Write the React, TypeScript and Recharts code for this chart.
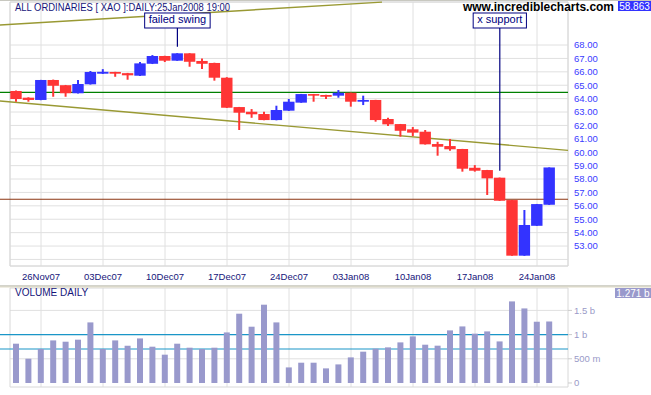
import React from "react";
import { ComposedChart, Bar, XAxis, YAxis, CartesianGrid, ReferenceLine, ReferenceArea } from "recharts";

const dates = [
    "22Nov07", "23Nov07", "26Nov07", "27Nov07", "28Nov07", "29Nov07", "30Nov07",
    "03Dec07", "04Dec07", "05Dec07", "06Dec07", "07Dec07",
    "10Dec07", "11Dec07", "12Dec07", "13Dec07", "14Dec07",
    "17Dec07", "18Dec07", "19Dec07", "20Dec07", "21Dec07",
    "24Dec07", "27Dec07", "28Dec07", "31Dec07", "02Jan08",
    "03Jan08", "04Jan08", "07Jan08", "08Jan08", "09Jan08",
    "10Jan08", "11Jan08", "14Jan08", "15Jan08", "16Jan08",
    "17Jan08", "18Jan08", "21Jan08", "22Jan08", "23Jan08",
    "24Jan08", "25Jan08",
];

const opens = [
    64.57, 64.07, 63.9, 65.39, 65.0, 64.4, 65.07, 65.86, 65.99, 65.9, 65.71, 66.6,
    67.18, 66.83, 67.38, 66.81, 66.66, 65.56, 63.37, 63.02, 62.85, 62.4, 63.1, 63.7,
    64.34, 64.27, 64.22, 64.44, 63.77, 63.9, 62.48, 62.1, 61.71, 61.53, 60.61, 60.46,
    60.24, 58.84, 58.67, 58.1, 56.43, 52.28, 54.51, 56.08,
];
const highs = [
    64.6, 64.1, 65.4, 65.42, 65.02, 65.39, 66.06, 66.2, 66.0, 65.92, 66.73, 67.25,
    67.2, 67.39, 67.39, 67.0, 66.68, 65.6, 63.38, 63.22, 63.02, 63.47, 63.97, 64.35,
    64.35, 64.28, 64.64, 64.45, 64.22, 63.91, 62.57, 62.11, 61.88, 61.66, 60.78, 60.99,
    60.25, 59.04, 58.68, 58.11, 56.44, 55.69, 56.14, 58.87,
];
const lows = [
    63.77, 63.77, 63.88, 64.14, 64.14, 64.38, 65.05, 65.84, 65.63, 65.41, 65.69, 66.58,
    66.73, 66.82, 66.38, 66.21, 65.34, 63.3, 61.66, 62.57, 62.38, 62.38, 63.08, 63.69,
    63.77, 63.97, 64.07, 63.4, 63.52, 62.28, 61.96, 61.16, 61.2, 60.57, 59.74, 60.11,
    58.55, 58.55, 56.81, 56.37, 52.27, 52.27, 54.5, 56.07,
];
const closes = [
    63.97, 63.9, 65.39, 64.96, 64.4, 65.09, 65.99, 66.0, 65.86, 65.74, 66.63, 67.18,
    66.83, 67.38, 66.75, 66.6, 65.56, 63.32, 62.95, 62.83, 62.4, 63.15, 63.77, 64.34,
    64.22, 64.14, 64.44, 63.77, 63.9, 62.4, 62.08, 61.6, 61.46, 60.59, 60.41, 60.22,
    58.77, 58.62, 58.05, 56.38, 52.28, 54.57, 56.13, 58.863,
];
// volume in billions
const volumes = [
    0.812, 0.502, 0.702, 0.88, 0.853, 0.895, 1.252, 0.702, 0.88, 0.771,
    0.921, 0.75, 0.585, 0.812, 0.729, 0.702, 0.729, 1.045, 1.432, 1.163,
    1.618, 1.252, 0.322, 0.419, 0.419, 0.302, 0.384, 0.529, 0.647, 0.709,
    0.736, 0.839, 0.963, 0.791, 0.771, 1.087, 1.169, 1.019, 1.066, 0.859,
    1.686, 1.541, 1.266, 1.271,
];

const weekTicks = [2, 7, 12, 17, 22, 27, 32, 37, 42];
const priceTicks = [52, 53, 54, 55, 56, 57, 58, 59, 60, 61, 62, 63, 64, 65, 66, 67, 68];
const volumeTicks = [0, 0.5, 1, 1.5];

const greenLevel = 64.47;
const brownLevel = 56.49;
const volumeLevels = [1.0, 0.702];

const upperTrend = [{ x: -1.31, y: 69.49 }, { x: 29.5, y: 71.2 }];
const lowerTrend = [{ x: -1.31, y: 63.82 }, { x: 44.5, y: 60.14 }];

const annotations = [
    { i: 13, text: "failed swing", from: 67.87 },
    { i: 39, text: "x support", from: 58.62 },
];
const ANNOT_TOP = 69.27;

const PRICE_DOMAIN = [51.51, 71.21];
const VOL_DOMAIN = [-0.083, 1.963];
const X_DOMAIN = [-0.5, 44.5];

const UP = "#3333ff";
const DOWN = "#ff3535";
const NAVY = "#15157a";
const FONT = "'Liberation Sans', Arial, sans-serif";

const data = dates.map((date, i) => ({
    i,
    date,
    open: opens[i],
    high: highs[i],
    low: lows[i],
    close: closes[i],
    volume: volumes[i],
}));

const measure = (text: string, font: string) => {
    const ctx = document.createElement("canvas").getContext("2d");
    if (!ctx) return text.length * 5.5;
    ctx.font = font;
    return ctx.measureText(text).width;
};

const Candle = (props: any) => {
    const { x, y, width, height, payload } = props;
    const top = Math.min(y, y + height);
    const h = Math.abs(height);
    const { open, close, high, low } = payload;
    const ppu = h / (high - low);
    const bodyTop = top + (high - Math.max(open, close)) * ppu;
    const bodyBot = top + (high - Math.min(open, close)) * ppu;
    const color = close >= open ? UP : DOWN;
    const cx = x + width / 2;
    return (
        <g>
            <line x1={cx} x2={cx} y1={top} y2={top + h} stroke={color} strokeWidth={2} />
            <rect x={x + 0.3} y={bodyTop} width={width - 0.6} height={Math.max(bodyBot - bodyTop, 1.5)} fill={color} />
        </g>
    );
};

const annotationShape = (text: string) => (p: any) => {
    const x = p.x1;
    const yTop = Math.min(p.y1, p.y2);
    const yBot = Math.max(p.y1, p.y2);
    const w = measure(text, `11px ${FONT}`) + 8;
    return (
        <g>
            <line x1={x} x2={x} y1={yTop} y2={yBot} stroke="#000080" strokeWidth={1.2} />
            <rect x={x - w / 2} y={yTop - 15} width={w} height={15} fill="#fff" stroke="#000080" strokeWidth={1} />
            <text x={x} y={yTop - 4.5} textAnchor="middle" fontSize={11} fontFamily={FONT} fill="#000080">
                {text}
            </text>
        </g>
    );
};

const formatVol = (v: number) => (v === 0 ? "0" : v < 1 ? `${Math.round(v * 1000)} m` : `${v} b`);

const layer: React.CSSProperties = { position: "absolute", left: 0, top: 0 };

export default function App() {
    const last = data[data.length - 1];
    return (
        <div style={{ position: "absolute", left: 0, top: 0, width: 651, height: 395, background: "#fff", overflow: "hidden", fontFamily: FONT }}>
            {/* price panel: grid, axes and level lines underneath */}
            <div style={layer}>
                <ComposedChart width={651} height={287} data={data} margin={{ top: 2, right: 0, bottom: 0, left: 10 }}>
                    <CartesianGrid stroke="#e0e0e0" strokeWidth={1} />
                    <XAxis
                        dataKey="i"
                        type="number"
                        domain={X_DOMAIN}
                        ticks={weekTicks}
                        interval={0}
                        tickFormatter={(v: number) => dates[v]}
                        axisLine={false}
                        tickLine={false}
                        tickSize={4}
                        tickMargin={3}
                        height={21}
                        tick={{ fill: NAVY, fontSize: 9.5, fontFamily: FONT }}
                    />
                    <YAxis
                        orientation="right"
                        type="number"
                        domain={PRICE_DOMAIN}
                        allowDataOverflow
                        ticks={priceTicks}
                        interval={0}
                        tickFormatter={(v: number) => (v === 52 ? "" : v.toFixed(2))}
                        axisLine={false}
                        tickLine={false}
                        tickSize={4}
                        tickMargin={2}
                        width={83}
                        tick={{ fill: "#3b3bff", fontSize: 9.5, fontFamily: FONT }}
                    />
                    <ReferenceArea x1={X_DOMAIN[0]} x2={X_DOMAIN[1]} y1={PRICE_DOMAIN[0]} y2={PRICE_DOMAIN[1]} fill="none" stroke="#d8d8d8" fillOpacity={0} />
                    <ReferenceLine segment={[{ x: -1.31, y: greenLevel }, { x: 44.5, y: greenLevel }]} stroke="#008000" strokeWidth={1.2} ifOverflow="visible" />
                    <ReferenceLine segment={[{ x: -1.31, y: brownLevel }, { x: 44.5, y: brownLevel }]} stroke="#8b3410" strokeWidth={1.2} ifOverflow="visible" />
                    <ReferenceLine segment={upperTrend} stroke="#999933" strokeWidth={1.4} ifOverflow="visible" />
                    <ReferenceLine segment={lowerTrend} stroke="#999933" strokeWidth={1.4} ifOverflow="visible" />
                </ComposedChart>
            </div>
            {/* price panel: candles and annotations on top */}
            <div style={layer}>
                <ComposedChart width={651} height={287} data={data} margin={{ top: 2, right: 83, bottom: 21, left: 10 }}>
                    <XAxis dataKey="i" type="number" domain={X_DOMAIN} hide />
                    <YAxis type="number" domain={PRICE_DOMAIN} allowDataOverflow hide />
                    <Bar
                        dataKey={(d: any) => [d.low, d.high]}
                        barSize={12}
                        shape={<Candle />}
                        isAnimationActive={false}
                    />
                    {annotations.map((a) => (
                        <ReferenceLine
                            key={a.text}
                            segment={[{ x: a.i, y: a.from }, { x: a.i, y: ANNOT_TOP }]}
                            ifOverflow="visible"
                            shape={annotationShape(a.text)}
                        />
                    ))}
                </ComposedChart>
            </div>
            {/* volume panel */}
            <div style={{ ...layer, top: 287 }}>
                <ComposedChart width={651} height={108} data={data} margin={{ top: 1, right: 0, bottom: 8, left: 10 }}>
                    <CartesianGrid stroke="#e0e0e0" verticalValues={weekTicks} horizontalValues={[0.5, 1, 1.5]} />
                    <XAxis dataKey="i" type="number" domain={X_DOMAIN} ticks={weekTicks} hide />
                    <YAxis
                        orientation="right"
                        type="number"
                        domain={VOL_DOMAIN}
                        allowDataOverflow
                        ticks={volumeTicks}
                        interval={0}
                        tickFormatter={formatVol}
                        axisLine={false}
                        tickLine={{ stroke: "#cccccc" }}
                        tickSize={4}
                        tickMargin={2}
                        width={83}
                        tick={{ fill: "#9a9ac8", fontSize: 9.5, fontFamily: FONT }}
                    />
                    <ReferenceArea x1={X_DOMAIN[0]} x2={X_DOMAIN[1]} y1={VOL_DOMAIN[0]} y2={VOL_DOMAIN[1]} fill="none" stroke="#d8d8d8" fillOpacity={0} />
                    {volumeLevels.map((v) => (
                        <ReferenceLine key={v} segment={[{ x: -1.31, y: v }, { x: 44.5, y: v }]} stroke="#1a96c8" strokeWidth={1.2} ifOverflow="visible" />
                    ))}
                </ComposedChart>
            </div>
            <div style={{ ...layer, top: 287 }}>
                <ComposedChart width={651} height={108} data={data} margin={{ top: 1, right: 83, bottom: 8, left: 10 }}>
                    <XAxis dataKey="i" type="number" domain={X_DOMAIN} hide />
                    <YAxis type="number" domain={VOL_DOMAIN} allowDataOverflow hide />
                    <Bar dataKey="volume" barSize={6} fill="#9999cc" isAnimationActive={false} />
                </ComposedChart>
            </div>
            <svg width={651} height={395} style={{ ...layer, pointerEvents: "none" }}>
                <rect x={0} y={0} width={651} height={1} fill="#c8c8c0" />
                <text x={15} y={10.5} fontSize={10} fontFamily={FONT} fill={NAVY} textLength={215} lengthAdjust="spacingAndGlyphs">
                    ALL ORDINARIES [ XAO ]:DAILY:25Jan2008 19:00
                </text>
                <text x={463} y={11} fontSize={12} fontWeight="bold" fontFamily={FONT} fill="#000" textLength={151} lengthAdjust="spacingAndGlyphs">
                    www.incrediblecharts.com
                </text>
                <rect x={618} y={1} width={33} height={10} fill={UP} />
                <text x={634.5} y={9.5} fontSize={10} fontFamily={FONT} fill="#fff" textAnchor="middle">
                    {last.close.toFixed(3)}
                </text>
                <rect x={0} y={285.5} width={651} height={1} fill="#a8a898" />
                <rect x={0} y={286.5} width={651} height={1} fill="#e0dcc8" />
                <text x={15} y={296} fontSize={10} fontFamily={FONT} fill={NAVY}>
                    VOLUME DAILY
                </text>
                <rect x={615} y={288} width={36} height={10} fill="#9999cc" />
                <text x={633} y={296.5} fontSize={10} fontFamily={FONT} fill="#fff" textAnchor="middle">
                    {`${last.volume.toFixed(3)} b`}
                </text>
            </svg>
        </div>
    );
}
